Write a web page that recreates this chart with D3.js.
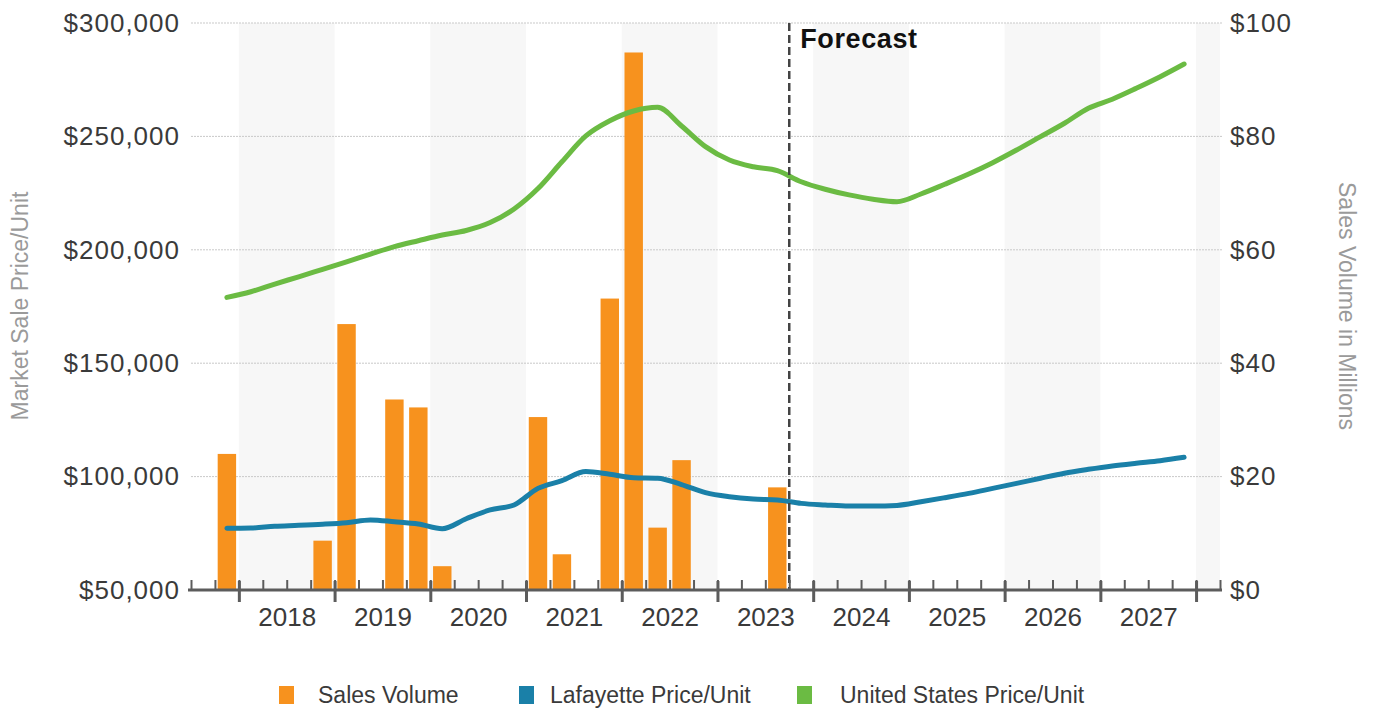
<!DOCTYPE html>
<html>
<head>
<meta charset="utf-8">
<script src="https://cdn.jsdelivr.net/npm/d3@7"></script>
<style>
  body { margin: 0; background: #fff; }
  svg { display: block; font-family: "Liberation Sans", Arial, Helvetica, sans-serif; }
</style>
</head>
<body>
<svg id="chart" width="1373" height="713"></svg>
<script>
// Quarterly periods on the x axis (first and last are empty padding slots)
const quarters = [
  "2017 Q3","2017 Q4",
  "2018 Q1","2018 Q2","2018 Q3","2018 Q4",
  "2019 Q1","2019 Q2","2019 Q3","2019 Q4",
  "2020 Q1","2020 Q2","2020 Q3","2020 Q4",
  "2021 Q1","2021 Q2","2021 Q3","2021 Q4",
  "2022 Q1","2022 Q2","2022 Q3","2022 Q4",
  "2023 Q1","2023 Q2","2023 Q3","2023 Q4",
  "2024 Q1","2024 Q2","2024 Q3","2024 Q4",
  "2025 Q1","2025 Q2","2025 Q3","2025 Q4",
  "2026 Q1","2026 Q2","2026 Q3","2026 Q4",
  "2027 Q1","2027 Q2","2027 Q3","2027 Q4",
  "2028 Q1"
];

// Periods that carry data (2017 Q4 .. 2027 Q4)
const periods = quarters.slice(1, 42);

// Sales volume, $ millions (null = no recorded sales)
const salesVolume = [
  24.0, null, null, null, 8.7,
  46.9, null, 33.6, 32.2,
  4.2, null, null, null,
  30.5, 6.3, null, 51.4,
  94.8, 11.0, 22.9, null,
  null, null, 18.1, null,
  null, null, null, null,
  null, null, null, null,
  null, null, null, null,
  null, null, null, null
];

// Market sale price per unit, Lafayette
const lafayettePrice = [
  77200, 77300, 78100, 78500, 79000,
  79700, 80900, 80100, 79100,
  77000, 81400, 85300, 87500,
  94800, 98200, 102200, 101000,
  99500, 99300, 96500, 92900,
  91100, 90100, 89700, 88200,
  87500, 87000, 87000, 87300,
  88900, 90700, 92600, 94800,
  97000, 99300, 101500, 103200,
  104700, 105900, 107000, 108500
];

// Market sale price per unit, United States
const usPrice = [
  179000, 181500, 184900, 188100, 191400,
  194700, 198100, 201400, 204000,
  206500, 208500, 212000, 218000,
  227000, 238800, 250200, 256900,
  261200, 262800, 254600, 245500,
  239600, 236600, 234900, 230000,
  226700, 224200, 222300, 221200,
  224600, 228900, 233400, 238400,
  244000, 249900, 255800, 262400,
  266400, 271200, 276300, 281900
];

const years = ["2018","2019","2020","2021","2022","2023","2024","2025","2026","2027"];
const shadedYears = ["2018","2020","2022","2024","2026","2028"];
const forecastStart = "2023 Q4";

const priceTicks = [50000, 100000, 150000, 200000, 250000, 300000];
const volumeTicks = [0, 20, 40, 60, 80, 100];

const colors = { volume: "#f7921e", lafayette: "#1a80a8", us: "#6bbb43" };

const svg = d3.select("#chart");
const plot = { left: 191, right: 1220, top: 23, bottom: 590 };

// Scales
const xEdge = d3.scaleLinear().domain([0, quarters.length]).range([plot.left, plot.right]);
const xBand = d3.scaleBand().domain(quarters).range([plot.left, plot.right])
  .paddingInner(0.23).paddingOuter(0.115);
const xMid = q => xBand(q) + xBand.bandwidth() / 2;
const yPrice = d3.scaleLinear().domain([50000, 300000]).range([plot.bottom, plot.top]);
const yVolume = d3.scaleLinear().domain([0, 100]).range([plot.bottom, plot.top]);

// Alternating year bands
quarters.forEach((q, i) => {
  const yr = q.slice(0, 4);
  if (q.endsWith("Q1") && shadedYears.includes(yr)) {
    const end = Math.min(i + 4, quarters.length);
    svg.append("rect")
      .attr("x", xEdge(i)).attr("y", plot.top)
      .attr("width", xEdge(end) - xEdge(i))
      .attr("height", plot.bottom - plot.top)
      .attr("fill", "#f7f7f7");
  }
});

// Horizontal gridlines
svg.append("g").selectAll("line")
  .data(priceTicks.filter(d => d > 50000))
  .join("line")
  .attr("x1", plot.left).attr("x2", plot.right + 2)
  .attr("y1", d => yPrice(d)).attr("y2", d => yPrice(d))
  .attr("stroke", "#c9c9c9").attr("stroke-width", 1)
  .attr("stroke-dasharray", "2,1");

// Sales volume bars
const volData = periods.map((p, i) => ({ p, v: salesVolume[i] })).filter(d => d.v != null);
svg.append("g").selectAll("rect")
  .data(volData)
  .join("rect")
  .attr("x", d => xBand(d.p))
  .attr("width", xBand.bandwidth())
  .attr("y", d => yVolume(d.v))
  .attr("height", d => yVolume(0) - yVolume(d.v))
  .attr("fill", colors.volume);

// Price lines
const line = d3.line()
  .x((d, i) => xMid(periods[i]))
  .y(d => yPrice(d))
  .curve(d3.curveMonotoneX);

svg.append("path").datum(usPrice)
  .attr("d", line).attr("fill", "none")
  .attr("stroke", colors.us).attr("stroke-width", 5)
  .attr("stroke-linejoin", "round").attr("stroke-linecap", "round");

svg.append("path").datum(lafayettePrice)
  .attr("d", line).attr("fill", "none")
  .attr("stroke", colors.lafayette).attr("stroke-width", 5)
  .attr("stroke-linejoin", "round").attr("stroke-linecap", "round");

// Forecast divider
const fx = xEdge(quarters.indexOf(forecastStart));
svg.append("line")
  .attr("x1", fx).attr("x2", fx)
  .attr("y1", plot.top).attr("y2", plot.bottom)
  .attr("stroke", "#444").attr("stroke-width", 2.5)
  .attr("stroke-dasharray", "8,4");
svg.append("text")
  .attr("x", fx + 11).attr("y", 48)
  .attr("font-size", 27).attr("font-weight", "bold")
  .attr("letter-spacing", 0.6)
  .attr("fill", "#111")
  .text("Forecast");

// Bottom axis: quarter ticks (upward), year ticks (crossing), year labels
const axisColor = "#5c5c5c";
const gMinor = svg.append("g").attr("transform", `translate(0,${plot.bottom})`)
  .call(d3.axisBottom(xEdge).tickValues(d3.range(0, quarters.length + 1))
    .tickSize(-10).tickSizeOuter(0).tickFormat(""));
gMinor.select(".domain").attr("stroke", axisColor).attr("stroke-width", 3)
  .attr("d", `M${plot.left - 3},0H${plot.right + 2}`);
gMinor.selectAll(".tick line").attr("stroke", axisColor).attr("stroke-width", 2);

const yearStarts = quarters.map((q, i) => q.endsWith("Q1") ? i : null).filter(i => i != null);
const gMajor = svg.append("g").attr("transform", `translate(0,${plot.bottom})`)
  .call(d3.axisBottom(xEdge).tickValues(yearStarts).tickSize(12).tickSizeOuter(0).tickFormat(""));
gMajor.select(".domain").remove();
gMajor.selectAll(".tick line").attr("y1", -9).attr("stroke", axisColor).attr("stroke-width", 3);

const yearMid = years.map(y => quarters.indexOf(y + " Q1") + 2);
const gYears = svg.append("g").attr("transform", `translate(0,${plot.bottom})`)
  .call(d3.axisBottom(xEdge).tickValues(yearMid).tickSize(0).tickPadding(18)
    .tickFormat(i => quarters[i - 2].slice(0, 4)));
gYears.select(".domain").remove();
gYears.selectAll("text").attr("font-size", 26).attr("fill", "#3a3a3a")
  .attr("font-family", null);

// Left price axis
const gLeft = svg.append("g").attr("transform", `translate(${plot.left},0)`)
  .call(d3.axisLeft(yPrice).tickValues(priceTicks).tickSize(0).tickPadding(11)
    .tickFormat(d3.format("$,")));
gLeft.select(".domain").remove();
gLeft.selectAll("text").attr("font-size", 26).attr("fill", "#3a3a3a")
  .attr("letter-spacing", 1).attr("font-family", null);

// Right volume axis
const gRight = svg.append("g").attr("transform", `translate(${plot.right},0)`)
  .call(d3.axisRight(yVolume).tickValues(volumeTicks).tickSize(0).tickPadding(10)
    .tickFormat(d => "$" + d));
gRight.select(".domain").remove();
gRight.selectAll("text").attr("font-size", 26).attr("fill", "#3a3a3a")
  .attr("letter-spacing", 1).attr("font-family", null);

// Axis titles
svg.append("text")
  .attr("transform", "translate(28,306) rotate(-90)")
  .attr("text-anchor", "middle")
  .attr("font-size", 23).attr("fill", "#9a9a9a")
  .text("Market Sale Price/Unit");
svg.append("text")
  .attr("transform", "translate(1339,306) rotate(90)")
  .attr("text-anchor", "middle")
  .attr("font-size", 23).attr("fill", "#9a9a9a")
  .text("Sales Volume in Millions");

// Legend
const legendItems = [
  { label: "Sales Volume", color: colors.volume, x: 279, tx: 318 },
  { label: "Lafayette Price/Unit", color: colors.lafayette, x: 519, tx: 550 },
  { label: "United States Price/Unit", color: colors.us, x: 797, tx: 840 }
];
const gLegend = svg.append("g");
legendItems.forEach(d => {
  gLegend.append("rect").attr("x", d.x).attr("y", 686)
    .attr("width", 15).attr("height", 18).attr("fill", d.color);
  gLegend.append("text").attr("x", d.tx).attr("y", 703)
    .attr("font-size", 23).attr("fill", "#3a3a3a").text(d.label);
});
</script>
</body>
</html>
